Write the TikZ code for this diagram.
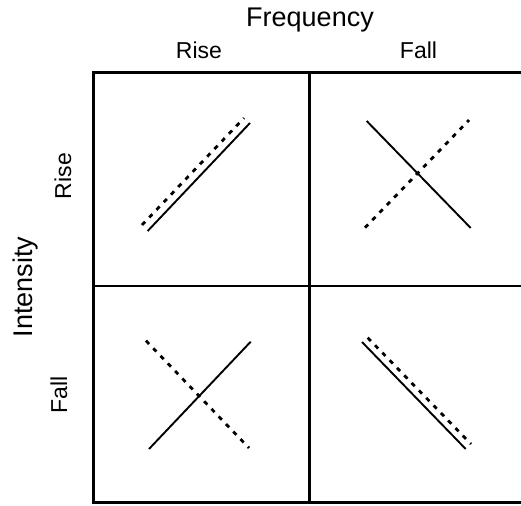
\documentclass[tikz,border=0pt]{standalone}
\usepackage{fontspec}
\setmainfont{Liberation Sans}
\begin{document}
\begin{tikzpicture}[x=1pt,y=-1pt,
  big/.style={font=\fontsize{27}{32}\selectfont, inner sep=0pt, anchor=base},
  small/.style={font=\fontsize{23}{28}\selectfont, inner sep=0pt, anchor=base},
  frame/.style={line width=2.3pt},
  grid/.style={line width=2.1pt},
  solidline/.style={line width=1.9pt},
  dashline/.style={line width=2.8pt, dash pattern=on 4.5pt off 6pt}]
\useasboundingbox (0,0) rectangle (521,505);
% labels
\node[big] (freq) at (310,27) {Frequency};
\node[small] (colrise) at (199,59) {Rise};
\node[small] (colfall) at (418.5,59) {Fall};
\node[big, rotate=90] (inten) at (32,287) {Intensity};
\node[small, rotate=90] (rowrise) at (71,176) {Rise};
\node[small, rotate=90] (rowfall) at (67,395) {Fall};
% grid (right side open, cut by the picture edge)
\draw[frame] (530,72.5) -- (93.5,72.5) -- (93.5,502.5) -- (530,502.5);
\draw[grid] (309.5,72.5) -- (309.5,502.5);
\draw[grid] (93.5,286) -- (530,286);
% top-left: both rise
\draw[solidline] (147.7,231) -- (250,123);
\draw[dashline] (142,225) -- (244,118);
% top-right
\draw[solidline] (366.7,121) -- (470.7,228);
\draw[dashline] (365,227.7) -- (469,120);
% bottom-left
\draw[solidline] (149,449) -- (250.7,341.7);
\draw[dashline] (146,340.7) -- (249,448);
% bottom-right
\draw[solidline] (362,342) -- (465.7,449);
\draw[dashline] (367.7,337.7) -- (471,444);
\end{tikzpicture}
\end{document}
